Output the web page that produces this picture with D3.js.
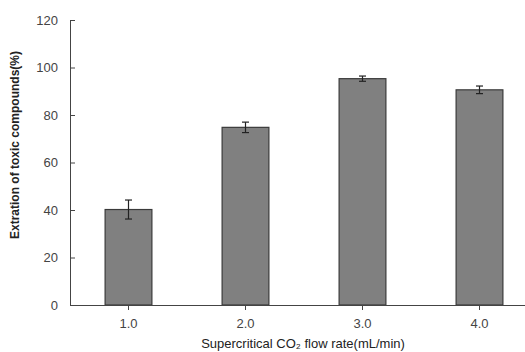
<!DOCTYPE html>
<html>
<head>
<meta charset="utf-8">
<script src="https://cdn.jsdelivr.net/npm/d3@7"></script>
<style>
  body { margin: 0; background: #fff; }
  text { font-family: "Liberation Sans", Arial, sans-serif; }
</style>
</head>
<body>
<script>
// chart values
var categories = ['1.0', '2.0', '3.0', '4.0'];
var values = [40.2, 74.8, 95.3, 90.6];
var errors = [4.0, 2.2, 1.1, 1.6];
var yTicks = [0, 20, 40, 60, 80, 100, 120];

var width = 525,
	height = 352;

var svg = d3.select('body')
	.append('svg')
	.attr('width', width)
	.attr('height', height);

// plot frame (names avoid window.top)
var plotLeft = 70, plotBottom = 305, plotTop = 20;

var x = d3.scaleBand()
	.domain(categories)
	.range([plotLeft, 538])
	.paddingInner(0.6)
	.paddingOuter(0.3);

var y = d3.scaleLinear()
	.domain([0, 120])
	.range([plotBottom, plotTop]);

// bars
svg.selectAll('rect.bar')
	.data(values)
	.enter().append('rect')
	.attr('class', 'bar')
	.attr('x', function(d, i) { return x(categories[i]); })
	.attr('y', function(d) { return y(d); })
	.attr('width', x.bandwidth())
	.attr('height', function(d) { return y(0) - y(d); })
	.attr('fill', '#808080')
	.attr('stroke', '#3a3a3a')
	.attr('stroke-width', 1.2);

// error bars
var eb = svg.selectAll('g.err')
	.data(values)
	.enter().append('g')
	.attr('class', 'err')
	.attr('stroke', '#222')
	.attr('stroke-width', 1.2);

function cx(i) { return x(categories[i]) + x.bandwidth() / 2; }

eb.append('line')
	.attr('x1', function(d, i) { return cx(i); })
	.attr('x2', function(d, i) { return cx(i); })
	.attr('y1', function(d, i) { return y(d + errors[i]); })
	.attr('y2', function(d, i) { return y(d - errors[i]); });

[1, -1].forEach(function(s) {
	eb.append('line')
		.attr('x1', function(d, i) { return cx(i) - 3.5; })
		.attr('x2', function(d, i) { return cx(i) + 3.5; })
		.attr('y1', function(d, i) { return y(d + s * errors[i]); })
		.attr('y2', function(d, i) { return y(d + s * errors[i]); });
});

// y axis, ticks pointing inward
var yAxis = svg.append('g')
	.attr('transform', 'translate(' + plotLeft + ',0)')
	.call(d3.axisRight(y).tickValues(yTicks).tickSize(5).tickFormat(d3.format('d')));

yAxis.select('.domain').attr('d', 'M0.5,' + plotTop + 'V' + plotBottom).attr('stroke', '#444');
yAxis.selectAll('.tick line').attr('stroke', '#444');
yAxis.selectAll('.tick text')
	.attr('x', -12)
	.attr('text-anchor', 'end')
	.attr('fill', '#444')
	.attr('font-size', 13);

// x axis
var xAxis = svg.append('g')
	.attr('transform', 'translate(0,' + plotBottom + ')')
	.call(d3.axisBottom(x).tickSize(5).tickPadding(9));

xAxis.select('.domain').attr('d', 'M' + plotLeft + ',0.5H' + width).attr('stroke', '#444');
xAxis.selectAll('.tick line').attr('stroke', '#444');
xAxis.selectAll('.tick text')
	.attr('fill', '#444')
	.attr('font-size', 13);

// axis titles
svg.append('text')
	.attr('x', 303)
	.attr('y', 348)
	.attr('text-anchor', 'middle')
	.attr('font-size', 13)
	.attr('fill', '#222')
	.text('Supercritical CO\u2082 flow rate(mL/min)');

svg.append('text')
	.attr('transform', 'translate(19,145) rotate(-90)')
	.attr('text-anchor', 'middle')
	.attr('font-size', 12)
	.attr('font-weight', 'bold')
	.attr('fill', '#222')
	.text('Extration of toxic compounds(%)');
</script>
</body>
</html>
